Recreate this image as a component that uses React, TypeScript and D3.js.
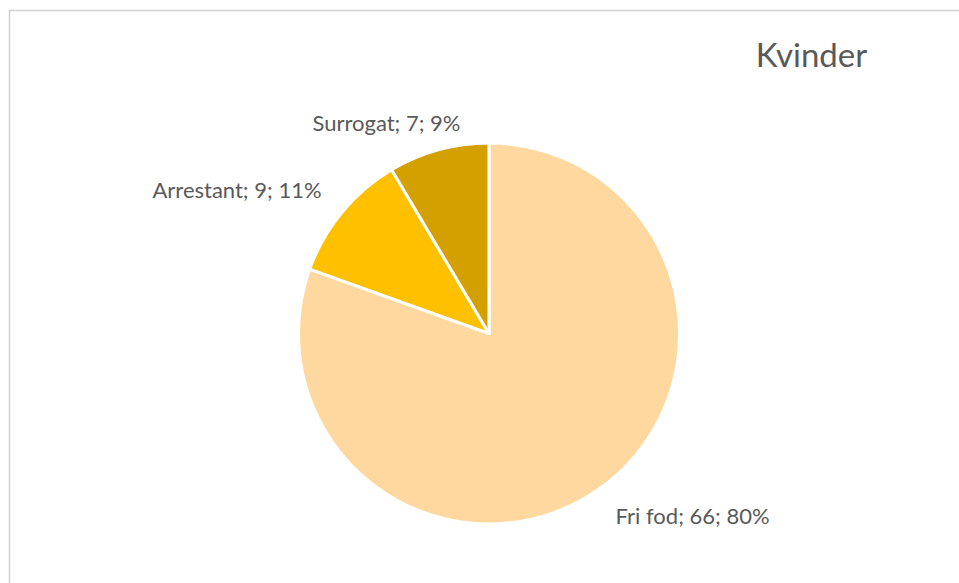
import React from "react";
import * as d3 from "d3";

const categories = ["Fri fod", "Arrestant", "Surrogat"];
const values = [66, 9, 7];
const percents = ["80%", "11%", "9%"];
const title = "Kvinder";

const colors = ["#FFD89F", "#FFC000", "#D4A000"];
// label nudges relative to the slice's outer edge point (layout only)
const labelNudge: [number, number][] = [
  [94, 34.5],
  [-105, -14],
  [-52, -18.7],
];

const W = 959;
const H = 583;
const cx = 489;
const cy = 333.5;
const R = 190.5;

export default function App() {
  const pie = d3
    .pie<number>()
    .sort(null)
    .value((d) => d)
    .startAngle(0)
    .endAngle(2 * Math.PI);
  const arcs = pie(values);
  const arcGen = d3.arc<d3.PieArcDatum<number>>().innerRadius(0).outerRadius(R);
  const font = "Lato, 'Open Sans', sans-serif";

  return (
    <svg
      width={W}
      height={H}
      style={{ position: "absolute", left: 0, top: 0, background: "#fff" }}
    >
      <rect x={9.5} y={10.5} width={1000} height={700} fill="#fff" stroke="#D0D0D0" strokeWidth={1.5} />
      <text x={811.5} y={67} textAnchor="middle" fontFamily={font} fontSize={33} fill="#595959">
        {title}
      </text>
      <g transform={`translate(${cx},${cy})`}>
        {arcs.map((a, i) => (
          <path key={i} d={arcGen(a) || ""} fill={colors[i]} stroke="#fff" strokeWidth={3} strokeLinejoin="round" />
        ))}
      </g>
      {arcs.map((a, i) => {
        const mid = (a.startAngle + a.endAngle) / 2;
        const px = cx + R * Math.sin(mid);
        const py = cy - R * Math.cos(mid);
        return (
          <text
            key={i}
            x={px + labelNudge[i][0]}
            y={py + labelNudge[i][1]}
            textAnchor="middle"
            fontFamily={font}
            fontSize={22}
            fill="#595959"
          >
            {`${categories[i]}; ${values[i]}; ${percents[i]}`}
          </text>
        );
      })}
    </svg>
  );
}
